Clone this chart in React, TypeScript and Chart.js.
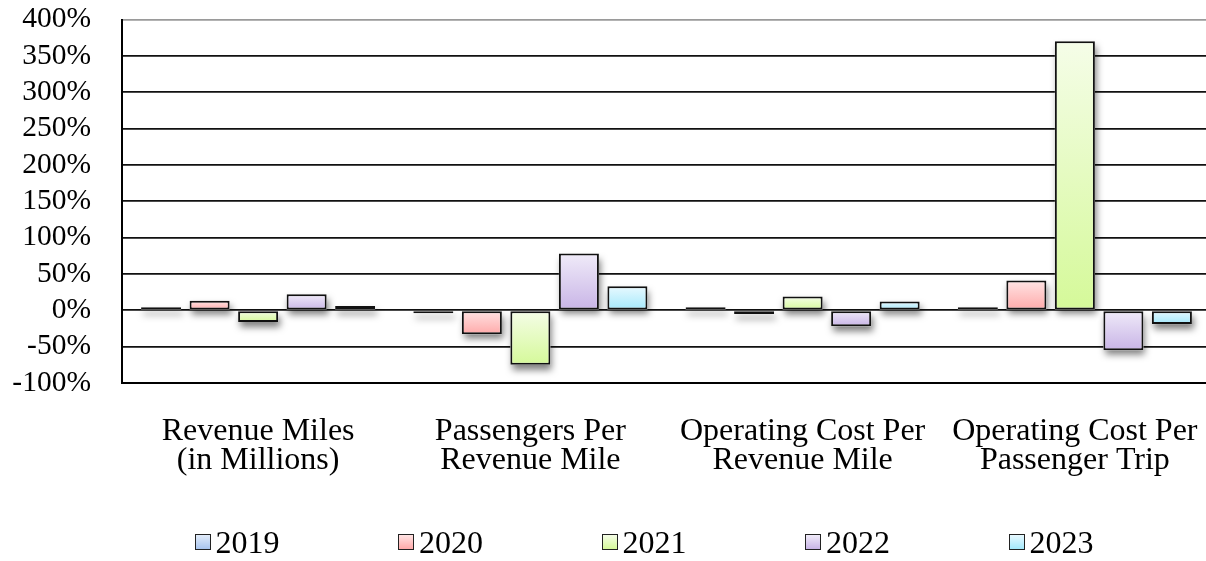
import React, { useEffect, useRef } from "react";
import { Chart, registerables } from "chart.js";

Chart.register(...registerables);

const categories: string[][] = [
  ["Revenue Miles", "(in Millions)"],
  ["Passengers Per", "Revenue Mile"],
  ["Operating Cost Per", "Revenue Mile"],
  ["Operating Cost Per", "Passenger Trip"],
];
const years = ["2019", "2020", "2021", "2022", "2023"];
const v2019 = [1, -2, 1, 4];
const v2020 = [13, -33, -5, 41];
const v2021 = [-16, -75, 19, 370];
const v2022 = [22, 78, -22, -55];
const v2023 = [6, 33, 12, -19];
const seriesValues = [v2019, v2020, v2021, v2022, v2023];
const yMin = -100;
const yMax = 400;
const yStep = 50;

const topColors = ["#e2ecfa", "#ffe4e4", "#f5fde8", "#f0ebf9", "#e8f9ff"];
const bottomColors = ["#a8c4ee", "#ffa9a9", "#d5f999", "#c8b4e6", "#a3e8fb"];
const midColors = ["#c4d7f4", "#ffc6c6", "#e6fbc0", "#dcd0ef", "#c6f0fd"];

const FONT = "'Liberation Serif', 'Times New Roman', serif";

const shadowPlugin = {
  id: "barShadow",
  beforeDatasetsDraw(chart: any) {
    const ctx = chart.ctx;
    ctx.save();
    chart.data.datasets.forEach((_: any, di: number) => {
      const meta = chart.getDatasetMeta(di);
      meta.data.forEach((el: any) => {
        const { x, y, base, width } = el.getProps(["x", "y", "base", "width"], true);
        const top = Math.min(y, base);
        const h = Math.abs(base - y);
        ctx.shadowColor = "rgba(0,0,0,0.5)";
        ctx.shadowBlur = 7;
        ctx.shadowOffsetX = 2;
        ctx.shadowOffsetY = 5;
        ctx.fillStyle = "#ffffff";
        ctx.fillRect(x - width / 2, top, width, Math.max(h, 2));
      });
    });
    ctx.restore();
  },
};

export default function App() {
  const canvasRef = useRef<HTMLCanvasElement | null>(null);

  useEffect(() => {
    const canvas = canvasRef.current;
    if (!canvas) return;
    const chart = new Chart(canvas, {
      type: "bar",
      data: {
        labels: categories,
        datasets: years.map((yr, i) => ({
          label: yr,
          data: seriesValues[i],
          backgroundColor: (ctx: any) => {
            const c = ctx.chart;
            const ys = c.scales && c.scales.y;
            if (!ys || ctx.type !== "data") return midColors[i];
            const v = ctx.raw as number;
            const t = ys.getPixelForValue(Math.max(v, 0));
            const b = ys.getPixelForValue(Math.min(v, 0));
            if (!isFinite(t) || !isFinite(b) || b - t < 1) return midColors[i];
            const g = c.ctx.createLinearGradient(0, t, 0, b);
            g.addColorStop(0, topColors[i]);
            g.addColorStop(1, bottomColors[i]);
            return g;
          },
          borderColor: "#111111",
          borderWidth: 2,
          borderSkipped: false,
          minBarLength: 3,
          categoryPercentage: 0.891,
          barPercentage: 0.825,
        })),
      },
      options: {
        animation: false,
        responsive: false,
        maintainAspectRatio: false,
        layout: { padding: { top: 19.5, left: 0, right: 1, bottom: 0 } },
        plugins: {
          legend: { display: false },
          tooltip: { enabled: false },
        },
        scales: {
          x: {
            grid: {
              display: true,
              drawOnChartArea: false,
              drawTicks: true,
              tickLength: 34,
              tickColor: "rgba(0,0,0,0)",
              color: "rgba(0,0,0,0)",
            },
            border: { display: true, color: "#000", width: 2 },
            ticks: {
              color: "#000",
              font: { family: FONT, size: 32, lineHeight: 0.9 },
              padding: 0,
              maxRotation: 0,
              autoSkip: false,
            },
            afterFit: (s: any) => {
              s.height = 178;
            },
          },
          y: {
            min: yMin,
            max: yMax,
            grid: {
              drawTicks: true,
              tickLength: 31,
              tickColor: "rgba(0,0,0,0)",
              color: (ctx: any) => (ctx.tick && ctx.tick.value === yMax ? "#9a9a9a" : "#111111"),
              lineWidth: 1.8,
            },
            border: { display: true, color: "#000", width: 2 },
            ticks: {
              stepSize: yStep,
              autoSkip: false,
              color: "#000",
              font: { family: FONT, size: 29.5 },
              padding: 0,
              callback: (v: any) => `${v}%`,
            },
            afterFit: (s: any) => {
              s.width = 122;
            },
          },
        },
      },
      plugins: [shadowPlugin],
    });
    return () => chart.destroy();
  }, []);

  const legendLeft = 194.5;
  const legendPitch = 203.5;

  return (
    <div
      style={{
        position: "fixed",
        left: 0,
        top: 0,
        width: 1206,
        height: 561,
        overflow: "hidden",
        background: "#fff",
      }}
    >
      <canvas ref={canvasRef} width={1212} height={561} style={{ display: "block" }} />
      {years.map((yr, i) => (
        <div
          key={yr}
          style={{
            position: "absolute",
            left: legendLeft + i * legendPitch,
            top: 523,
            height: 38,
            display: "flex",
            alignItems: "center",
            fontFamily: FONT,
            fontSize: 32,
            color: "#000",
            whiteSpace: "nowrap",
          }}
        >
          <span
            style={{
              display: "inline-block",
              boxSizing: "border-box",
              width: 16,
              height: 16,
              border: "1px solid #222",
              background: `linear-gradient(to bottom, ${topColors[i]}, ${bottomColors[i]})`,
              marginRight: 5,
            }}
          />
          <span>{yr}</span>
        </div>
      ))}
    </div>
  );
}
